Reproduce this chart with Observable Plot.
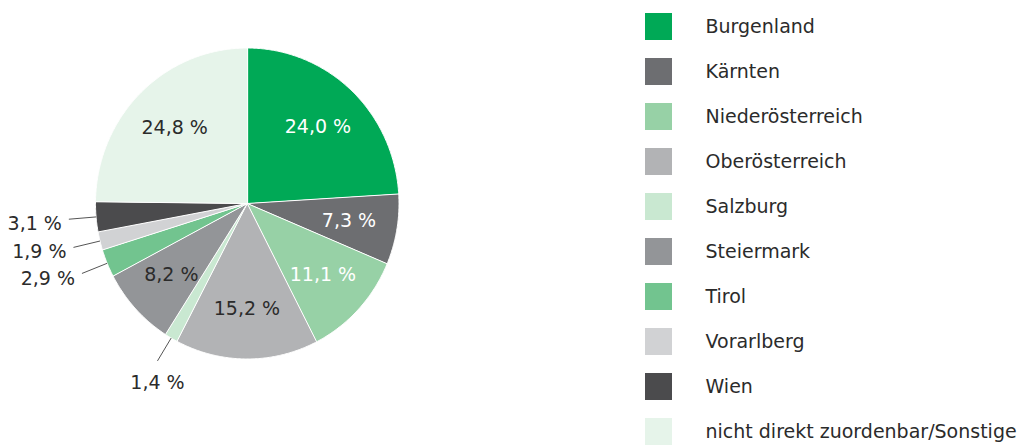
<!DOCTYPE html>
<html><head><meta charset="utf-8">
<script src="https://cdn.jsdelivr.net/npm/d3@7"></script>
<script src="https://cdn.jsdelivr.net/npm/@observablehq/plot@0.6"></script>
<style>
body{margin:0;background:#fff;}
#wrap{position:relative;width:1035px;height:445px;overflow:hidden;}
#pie{position:absolute;left:0;top:0;}
#legend{position:absolute;left:630px;top:0;}
svg text{font-family:"DejaVu Sans",sans-serif;}
</style></head><body><div id="wrap"><div id="pie"></div><div id="legend"></div></div>
<script>
const categories = ["Burgenland","Kärnten","Niederösterreich","Oberösterreich","Salzburg","Steiermark","Tirol","Vorarlberg","Wien","nicht direkt zuordenbar/Sonstige"];
const values = [24.0, 7.3, 11.1, 15.2, 1.4, 8.2, 2.9, 1.9, 3.1, 24.8];
const labelTexts = ["24,0 %","7,3 %","11,1 %","15,2 %","1,4 %","8,2 %","2,9 %","1,9 %","3,1 %","24,8 %"];
const outsideLabel = [false,false,false,false,true,false,true,true,true,false];
const palette = ["#00a956","#6d6e71","#97d1a6","#b2b3b5","#c9e8d1","#939598","#72c48f","#d1d2d4","#4b4b4d","#e6f4ea"];

const data = categories.map((name, i) => ({name, value: values[i], label: labelTexts[i], outside: outsideLabel[i], i}));
const arcs = d3.pie().sort(null).value(d => d.value).startAngle(0).endAngle(2 * Math.PI)(data);

// polygon points (unit circle) for each slice
const poly = [];
for (const a of arcs) {
  poly.push({name: a.data.name, x: 0, y: 0});
  const n = Math.max(2, Math.ceil((a.endAngle - a.startAngle) / (Math.PI / 360)));
  for (let k = 0; k <= n; k++) {
    const t = a.startAngle + (a.endAngle - a.startAngle) * k / n;
    poly.push({name: a.data.name, x: Math.sin(t), y: Math.cos(t)});
  }
}
const mid = a => (a.startAngle + a.endAngle) / 2;
const inside = arcs.filter(a => !a.data.outside).map(a => ({...a.data, x: 0.68 * Math.sin(mid(a)), y: 0.68 * Math.cos(mid(a))}));
const outside = arcs.filter(a => a.data.outside).map(a => ({...a.data,
  side: Math.abs(Math.sin(mid(a))) > 0.7,
  x1: Math.sin(mid(a)), y1: Math.cos(mid(a)),
  x2: 1.18 * Math.sin(mid(a)), y2: 1.17 * Math.cos(mid(a))}));

const color = {domain: categories, range: palette};
const font = {fontSize: "19px", fontFamily: "'DejaVu Sans',sans-serif"};
const ink = "#2b2b2b";

const pie = Plot.plot({
  width: 630, height: 445,
  margin: 0,
  x: {domain: [-1, 1], range: [95, 398.5], axis: null},
  y: {domain: [-1, 1], range: [358.5, 47.5], axis: null},
  color,
  style: {background: "white", overflow: "visible", ...font},
  marks: [
    Plot.line(poly, {x: "x", y: "y", z: "name", fill: "name", stroke: "white", strokeWidth: 1, curve: "linear-closed"}),
    Plot.link(outside, {x1: "x1", y1: "y1", x2: "x2", y2: "y2", stroke: "#555", strokeWidth: 1}),
    Plot.text(inside, {x: "x", y: "y", text: "label", fill: d => d.i < 3 ? "white" : ink, fontSize: 19}),
    Plot.text(outside.filter(d => d.side), {x: "x2", y: "y2", text: "label", textAnchor: "end", dx: -7, dy: 5, fill: ink, fontSize: 19}),
    Plot.text(outside.filter(d => !d.side), {x: "x2", y: "y2", text: "label", textAnchor: "middle", dy: 22, fill: ink, fontSize: 19})
  ]
});
document.getElementById("pie").append(pie);

const legend = Plot.plot({
  width: 405, height: 445,
  margin: 0,
  x: {domain: [0, 405], range: [0, 405], axis: null},
  y: {type: "band", domain: categories, range: [1.7, 456.2], paddingInner: 0.4, paddingOuter: 0.2, axis: null},
  color,
  style: {background: "white", overflow: "visible", ...font},
  marks: [
    Plot.barX(data, {x1: 15, x2: 42, y: "name", fill: "name"}),
    Plot.text(data, {x: 75, y: "name", text: "name", textAnchor: "start", fill: ink, fontSize: 19})
  ]
});
document.getElementById("legend").append(legend);
</script></body></html>
